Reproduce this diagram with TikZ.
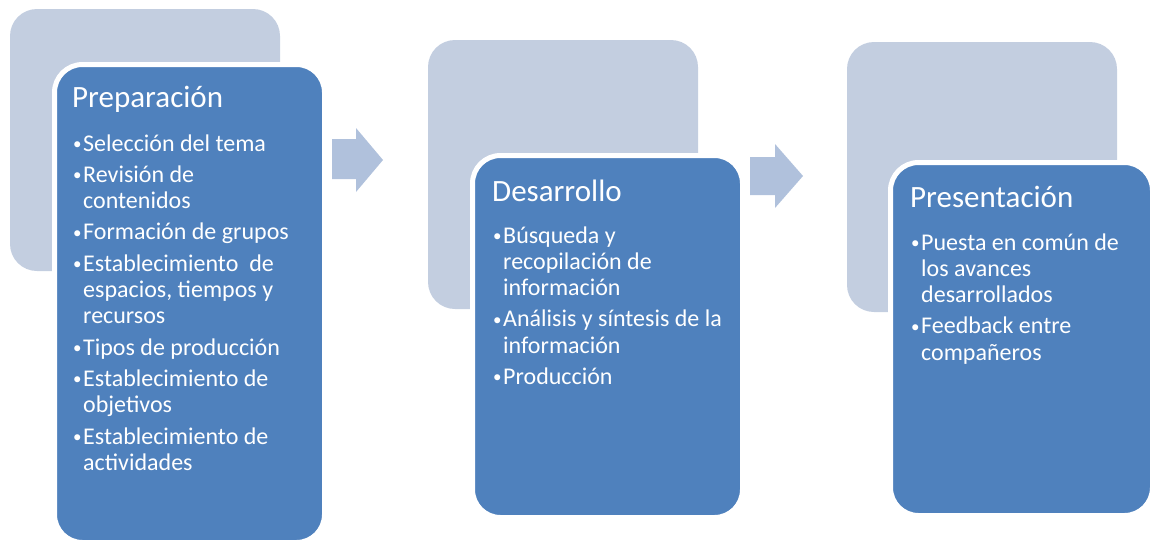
\documentclass[tikz,border=0pt]{standalone}
\usepackage{fontspec}
\setmainfont{Carlito}
\definecolor{backbox}{HTML}{C3CEE0}
\definecolor{frontbox}{HTML}{4F81BD}
\definecolor{arrowfill}{HTML}{B0C1DC}
\newlength{\bulind}
\setlength{\bulind}{10pt}
\newcommand{\nl}{\hfil\break}
\newcommand{\bulletmark}{\raisebox{1.6pt}{\fontsize{17}{17}\selectfont\textbullet}}
\newcommand{\itm}[1]{\par\hangindent=\bulind\hangafter=1\noindent\makebox[\bulind][l]{\bulletmark}#1}
\newcommand{\blist}[1]{\parbox[t]{250pt}{\fontsize{24}{26.3}\selectfont\setlength{\parskip}{5pt}\parindent=0pt\rightskip=0pt plus 1fil #1}}
\tikzset{
  backshape/.style={rectangle, rounded corners=27pt, fill=backbox, draw=none, inner sep=0pt, outer sep=0pt, anchor=north west},
  frontshape/.style={rectangle, rounded corners=28pt, fill=frontbox, draw=white, line width=5pt, inner sep=0pt, outer sep=0pt, anchor=north west},
  titletext/.style={anchor=base west, inner sep=0pt, text=white, font=\fontsize{31}{36}\selectfont},
  listtext/.style={anchor=base west, inner sep=0pt, text=white},
  blockarrow/.style={fill=arrowfill, draw=none}
}
\begin{document}
\begin{tikzpicture}[x=1pt, y=-1pt]
\useasboundingbox (0,0) rectangle (1151,541);
% stage 1
\node[backshape, minimum width=270pt, minimum height=262pt] (back1) at (10,9) {};
\node[frontshape, minimum width=270pt, minimum height=478pt] (front1) at (54.5,64.5) {};
\node[titletext] (title1) at (72,107) {Preparación};
\node[listtext] (list1) at (73,151) {\blist{%
\itm{Selección del tema}
\itm{Revisión de\nl contenidos}
\itm{Formación de grupos}
\itm{Establecimiento\ \ de\nl espacios, tiempos y\nl recursos}
\itm{Tipos de producción}
\itm{Establecimiento de\nl objetivos}
\itm{Establecimiento de\nl actividades}}};
% stage 2
\node[backshape, minimum width=270pt, minimum height=269pt] (back2) at (428,40) {};
\node[frontshape, minimum width=270pt, minimum height=362pt] (front2) at (472.5,155.5) {};
\node[titletext] (title2) at (492,201) {Desarrollo};
\node[listtext] (list2) at (493,243) {\blist{%
\itm{Búsqueda y\nl recopilación de\nl información}
\itm{Análisis y síntesis de la\nl información}
\itm{Producción}}};
% stage 3
\node[backshape, minimum width=270pt, minimum height=270pt] (back3) at (847,42) {};
\node[frontshape, minimum width=262pt, minimum height=353pt] (front3) at (890.5,162.5) {};
\node[titletext] (title3) at (910,207) {Presentación};
\node[listtext] (list3) at (911,250) {\blist{%
\itm{Puesta en común de\nl los avances\nl desarrollados}
\itm{Feedback entre\nl compañeros}}};
% arrows
\fill[blockarrow] (332,139) -- (356,139) -- (356,128) -- (383,160) -- (356,192) -- (356,179) -- (332,179) -- cycle;
\fill[blockarrow] (750,157) -- (775,157) -- (775,144) -- (803,176) -- (775,208) -- (775,195) -- (750,195) -- cycle;
\end{tikzpicture}
\end{document}
